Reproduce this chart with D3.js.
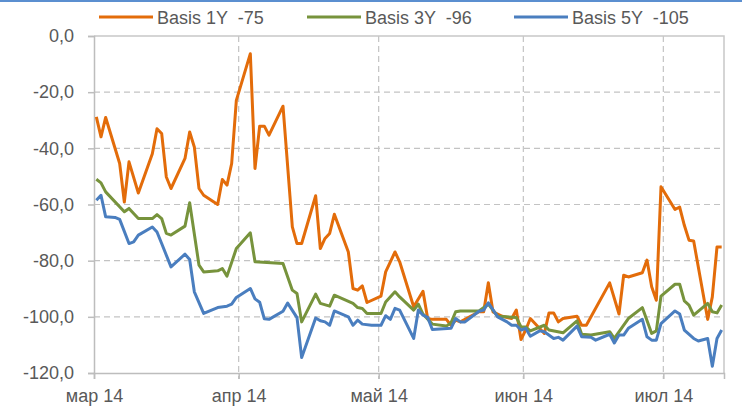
<!DOCTYPE html>
<html>
<head>
<meta charset="utf-8">
<script src="https://cdn.jsdelivr.net/npm/d3@7"></script>
<style>
  body { margin: 0; background: #fff; }
  svg { display: block; }
  text { font-family: "Liberation Sans", Arial, sans-serif; font-size: 18px; fill: #595959; }
</style>
</head>
<body>
<svg width="742" height="406"></svg>
<script>
// series names for the legend
var seriesNames = ['Basis 1Y  -75', 'Basis 3Y  -96', 'Basis 5Y  -105'];
var seriesColors = ['#E36C0A', '#77933C', '#4A7EBF'];

var dates1Y = ['2014-03-01','2014-03-02','2014-03-03','2014-03-06','2014-03-07','2014-03-08','2014-03-10','2014-03-13','2014-03-14','2014-03-15',
  '2014-03-16','2014-03-17','2014-03-20','2014-03-21','2014-03-22','2014-03-23','2014-03-24','2014-03-27','2014-03-28','2014-03-29',
  '2014-03-30','2014-03-31','2014-04-03','2014-04-04','2014-04-05','2014-04-06','2014-04-07','2014-04-10','2014-04-12','2014-04-13',
  '2014-04-14','2014-04-17','2014-04-18','2014-04-19','2014-04-20','2014-04-21','2014-04-24','2014-04-25','2014-04-26','2014-04-27',
  '2014-04-28','2014-05-01','2014-05-02','2014-05-04','2014-05-05','2014-05-08','2014-05-10','2014-05-11','2014-05-12','2014-05-15',
  '2014-05-16','2014-05-17','2014-05-18','2014-05-22','2014-05-23','2014-05-24','2014-05-25','2014-05-27','2014-05-29','2014-05-30',
  '2014-05-31','2014-06-01','2014-06-02','2014-06-05','2014-06-06','2014-06-07','2014-06-08','2014-06-09','2014-06-12','2014-06-13',
  '2014-06-14','2014-06-15','2014-06-19','2014-06-21','2014-06-22','2014-06-23','2014-06-26','2014-06-27','2014-06-28','2014-06-29',
  '2014-06-30','2014-07-03','2014-07-04','2014-07-05','2014-07-06','2014-07-07','2014-07-10','2014-07-11','2014-07-12','2014-07-13'];
var basis1Y = [-28.8,-35.9,-29.0,-45.4,-59.1,-44.8,-55.9,-41.9,-33.0,-34.7,
  -50.2,-54.3,-43.6,-34.2,-39.5,-54.3,-56.7,-60.0,-51.1,-53.1,
  -45.4,-22.9,-6.3,-47.2,-32.1,-32.1,-35.3,-25.0,-68.0,-73.9,
  -73.9,-56.9,-75.7,-72.1,-70.3,-63.5,-76.9,-89.9,-90.5,-89.0,
  -94.9,-92.6,-84.0,-76.9,-80.4,-96.4,-90.9,-100.6,-100.9,-100.9,
  -103.0,-101.2,-101.8,-98.2,-98.2,-87.9,-98.2,-99.8,-100.6,-97.6,
  -108.1,-104.7,-100.6,-105.9,-98.6,-98.6,-101.8,-100.6,-99.8,-103.0,
  -103.0,-100.0,-87.9,-99.0,-85.2,-85.8,-84.3,-79.8,-89.3,-94.1,
  -53.7,-61.8,-60.9,-67.4,-72.7,-73.0,-100.9,-92.9,-75.1,-75.1];

var dates3Y = ['2014-03-01','2014-03-02','2014-03-03','2014-03-07','2014-03-08','2014-03-10','2014-03-13','2014-03-14','2014-03-15','2014-03-16',
  '2014-03-17','2014-03-20','2014-03-21','2014-03-23','2014-03-24','2014-03-27','2014-03-28','2014-03-29','2014-03-31','2014-04-03',
  '2014-04-04','2014-04-10','2014-04-12','2014-04-13','2014-04-14','2014-04-17','2014-04-18','2014-04-20','2014-04-21','2014-04-25',
  '2014-04-26','2014-04-27','2014-04-28','2014-05-01','2014-05-02','2014-05-04','2014-05-05','2014-05-08','2014-05-09','2014-05-10',
  '2014-05-12','2014-05-15','2014-05-16','2014-05-17','2014-05-18','2014-05-22','2014-05-24','2014-05-26','2014-05-30','2014-05-31',
  '2014-06-01','2014-06-02','2014-06-05','2014-06-06','2014-06-09','2014-06-12','2014-06-13','2014-06-15','2014-06-19','2014-06-20',
  '2014-06-23','2014-06-26','2014-06-28','2014-06-29','2014-06-30','2014-07-03','2014-07-04','2014-07-05','2014-07-06','2014-07-07',
  '2014-07-10','2014-07-11','2014-07-12','2014-07-13'];
var basis3Y = [-51.0,-52.3,-55.5,-62.6,-61.4,-65.0,-65.0,-63.6,-65.0,-70.3,
  -70.9,-67.7,-59.4,-81.6,-84.0,-83.6,-82.8,-85.5,-75.7,-70.1,
  -80.4,-81.0,-90.5,-91.7,-101.8,-91.9,-95.2,-96.2,-92.3,-95.2,
  -96.7,-97.0,-98.8,-98.8,-94.7,-91.1,-92.9,-97.6,-95.5,-99.0,
  -102.6,-103.3,-102.1,-98.2,-97.9,-97.9,-95.5,-99.8,-100.2,-103.6,
  -103.6,-105.0,-103.0,-104.7,-105.7,-101.4,-106.2,-106.5,-105.3,-107.7,
  -100.6,-96.7,-105.9,-105.0,-92.6,-88.4,-88.4,-94.3,-95.8,-99.4,
  -95.2,-98.2,-98.6,-95.8];

var dates5Y = ['2014-03-01','2014-03-02','2014-03-03','2014-03-05','2014-03-06','2014-03-08','2014-03-09','2014-03-10','2014-03-13','2014-03-14',
  '2014-03-15','2014-03-17','2014-03-20','2014-03-21','2014-03-22','2014-03-24','2014-03-27','2014-03-29','2014-03-30','2014-03-31',
  '2014-04-03','2014-04-04','2014-04-05','2014-04-06','2014-04-07','2014-04-10','2014-04-11','2014-04-13','2014-04-14','2014-04-17',
  '2014-04-18','2014-04-19','2014-04-20','2014-04-21','2014-04-24','2014-04-25','2014-04-26','2014-04-27','2014-04-29','2014-05-01',
  '2014-05-02','2014-05-03','2014-05-04','2014-05-05','2014-05-08','2014-05-09','2014-05-10','2014-05-11','2014-05-12','2014-05-16',
  '2014-05-17','2014-05-18','2014-05-19','2014-05-22','2014-05-23','2014-05-24','2014-05-26','2014-05-28','2014-05-29','2014-05-30',
  '2014-05-31','2014-06-01','2014-06-02','2014-06-04','2014-06-05','2014-06-07','2014-06-08','2014-06-09','2014-06-12','2014-06-13',
  '2014-06-15','2014-06-16','2014-06-19','2014-06-20','2014-06-21','2014-06-22','2014-06-23','2014-06-26','2014-06-27','2014-06-28',
  '2014-06-29','2014-06-30','2014-07-03','2014-07-04','2014-07-05','2014-07-07','2014-07-08','2014-07-10','2014-07-11','2014-07-12',
  '2014-07-13'];
var basis5Y = [-58.5,-56.7,-64.4,-64.6,-65.3,-73.9,-73.3,-70.9,-68.0,-69.8,
  -73.9,-82.2,-77.7,-79.6,-91.1,-98.8,-96.7,-96.2,-95.5,-93.1,
  -89.9,-93.6,-94.8,-100.7,-100.9,-98.0,-95.1,-100.3,-114.5,-100.4,
  -101.4,-101.8,-103.0,-97.9,-100.0,-103.0,-101.2,-102.6,-103.0,-103.0,
  -99.6,-100.9,-97.0,-97.6,-107.7,-97.6,-99.4,-100.2,-104.5,-104.1,
  -100.6,-101.8,-101.8,-98.0,-97.6,-95.0,-100.0,-101.8,-103.0,-103.0,
  -104.7,-104.1,-106.9,-105.0,-105.3,-107.7,-107.3,-108.3,-103.3,-107.1,
  -107.3,-108.3,-106.2,-109.3,-106.5,-106.5,-104.1,-100.9,-107.1,-108.3,
  -108.3,-102.4,-97.9,-99.0,-104.7,-107.7,-108.6,-107.7,-117.6,-107.7,
  -104.7];

var yTicks = [-120, -100, -80, -60, -40, -20, 0];
var yTickLabels = ['-120,0', '-100,0', '-80,0', '-60,0', '-40,0', '-20,0', '0,0'];
var monthTicks = ['2014-03-01', '2014-04-01', '2014-05-01', '2014-06-01', '2014-07-01'];
var monthLabels = ['мар 14', 'апр 14', 'май 14', 'июн 14', 'июл 14'];

var parseDate = d3.timeParse('%Y-%m-%d');

var margin = {top: 36, left: 94};
var width = 630, height = 337;

var svg = d3.select('svg');

// thin blue frame line on top
svg.append('rect')
    .attr('x', 0).attr('y', 0)
    .attr('width', 742).attr('height', 2)
    .attr('fill', '#5B8FD0');

var g = svg.append('g')
    .attr('transform', 'translate(' + margin.left + ',' + margin.top + ')');

var x = d3.scaleTime()
    .domain([parseDate('2014-03-01'), parseDate('2014-07-14')])
    .range([0, width]);

var y = d3.scaleLinear()
    .domain([-120, 0])
    .range([height, 0]);

// horizontal dashed grid
g.selectAll('.hgrid')
    .data(yTicks.filter(function(d){ return d > -120 && d < 0; }))
    .enter()
    .append('line')
    .attr('x1', 0).attr('x2', width)
    .attr('y1', function(d){ return y(d); })
    .attr('y2', function(d){ return y(d); })
    .attr('stroke', '#c3c3c3')
    .attr('stroke-width', 1.2)
    .attr('stroke-dasharray', '6,4');

// vertical dashed grid at month starts
g.selectAll('.vgrid')
    .data(monthTicks.slice(1))
    .enter()
    .append('line')
    .attr('x1', function(d){ return x(parseDate(d)); })
    .attr('x2', function(d){ return x(parseDate(d)); })
    .attr('y1', 0).attr('y2', height + 6)
    .attr('stroke', '#c3c3c3')
    .attr('stroke-width', 1.2)
    .attr('stroke-dasharray', '6,4');

// plot border (top and right)
g.append('path')
    .attr('d', 'M0,0H' + width + 'V' + height)
    .attr('fill', 'none')
    .attr('stroke', '#c8c8c8')
    .attr('stroke-width', 1.5);

// axes
var yAxis = d3.axisLeft(y)
    .tickValues(yTicks)
    .tickFormat(function(d, i){ return yTickLabels[i]; })
    .tickSize(6)
    .tickPadding(14);

var yAxisG = g.append('g').call(yAxis);

var xAxis = d3.axisBottom(x)
    .tickValues(monthTicks.map(parseDate))
    .tickFormat(function(d, i){ return monthLabels[i]; })
    .tickSize(6)
    .tickPadding(10);

var xAxisG = g.append('g')
    .attr('transform', 'translate(0,' + height + ')')
    .call(xAxis);

[yAxisG, xAxisG].forEach(function(ax){
    ax.select('.domain').attr('stroke', '#bdbdbd').attr('stroke-width', 1.5);
    ax.selectAll('.tick line').attr('stroke', '#bdbdbd').attr('stroke-width', 1.5);
    ax.selectAll('.tick text')
        .attr('fill', '#595959')
        .style('font-size', '18px')
        .style('font-family', '"Liberation Sans", Arial, sans-serif');
});

// lines
var lineFunction = d3.line()
    .x(function(d){ return x(d3.timeHour.offset(d.date, 12)); })
    .y(function(d){ return y(d.value); });

var series = [
    {dates: dates1Y, values: basis1Y},
    {dates: dates3Y, values: basis3Y},
    {dates: dates5Y, values: basis5Y}
];

series.forEach(function(s, i){
    var pts = s.dates.map(function(d, j){
        return {date: parseDate(d), value: s.values[j]};
    });
    g.append('path')
        .datum(pts)
        .attr('fill', 'none')
        .attr('stroke', seriesColors[i])
        .attr('stroke-width', 3)
        .attr('stroke-linejoin', 'round')
        .attr('d', lineFunction);
});

// legend
var legendX = [99, 307, 514];
var legend = svg.selectAll('.legend')
    .data(seriesNames)
    .enter()
    .append('g')
    .attr('transform', function(d, i){ return 'translate(' + legendX[i] + ',17)'; });

legend.append('line')
    .attr('x1', 0).attr('x2', 54)
    .attr('stroke', function(d, i){ return seriesColors[i]; })
    .attr('stroke-width', 3);

legend.append('text')
    .attr('x', 58)
    .attr('y', 6.5)
    .style('white-space', 'pre')
    .text(function(d){ return d; });
</script>
</body>
</html>
